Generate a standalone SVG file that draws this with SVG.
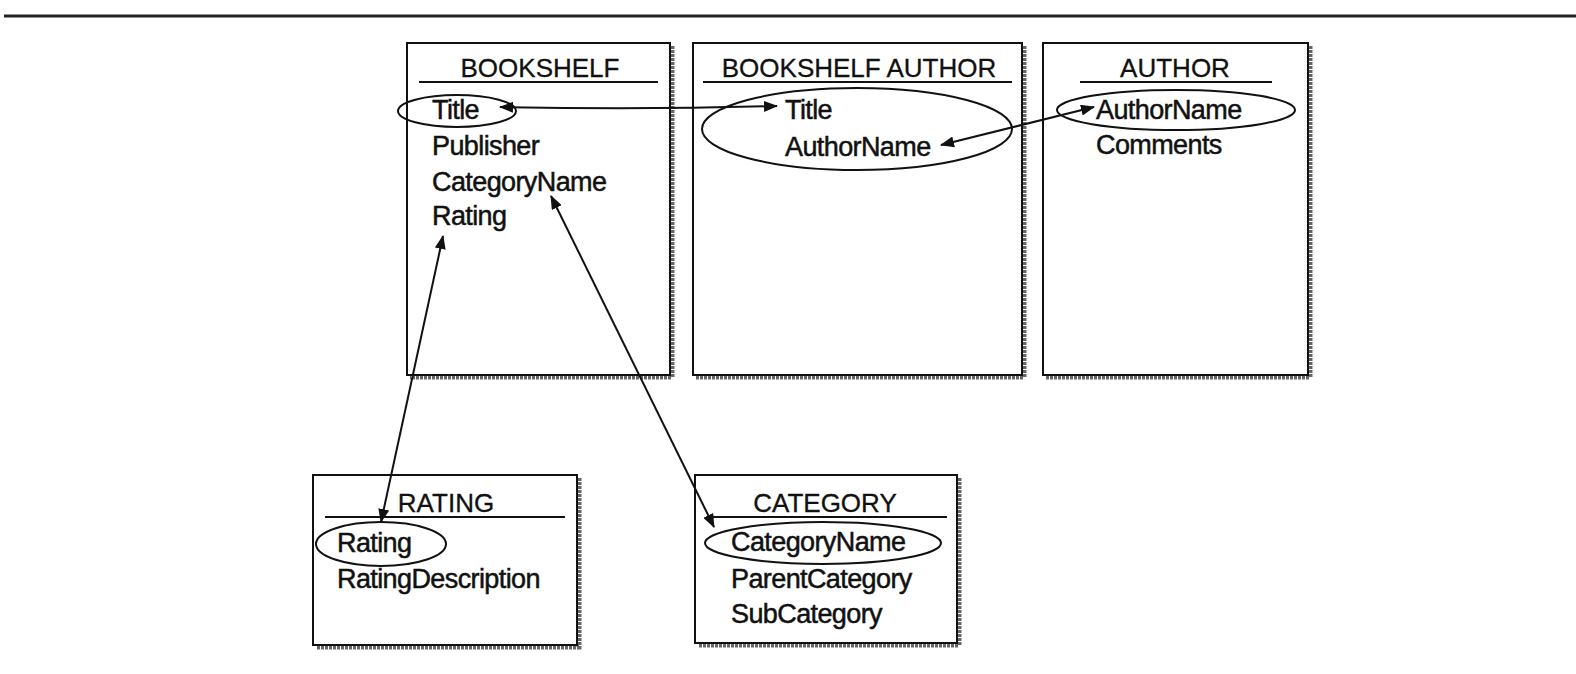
<svg xmlns="http://www.w3.org/2000/svg" width="1576" height="674" viewBox="0 0 1576 674">
<style>
.box{fill:#fff;stroke:#111;stroke-width:2}
.shadow{fill:none;stroke:#666;stroke-width:5;stroke-dasharray:3 1}
.hdr{font-family:"Liberation Sans",Arial,sans-serif;font-size:26px;fill:#111;stroke:#111;stroke-width:0.3;text-anchor:middle}
.fld{font-family:"Liberation Sans",Arial,sans-serif;font-size:27px;fill:#111;stroke:#111;stroke-width:0.5;letter-spacing:-0.6px}
.ul{stroke:#111;stroke-width:2}
.key{fill:none;stroke:#111;stroke-width:2}
.conn{fill:none;stroke:#111;stroke-width:2}
</style>
<defs>
<marker id="ah" viewBox="0 0 14 11" refX="13" refY="5.5" markerWidth="14" markerHeight="11" markerUnits="userSpaceOnUse" orient="auto-start-reverse">
<path d="M0,0 L14,5.5 L0,11 Z" fill="#111"/>
</marker>
</defs>
<line x1="4" y1="16" x2="1576" y2="16" stroke="#222" stroke-width="3"/>

<g id="bookshelf">
<polyline class="shadow" points="672,46 672,377 410,377"/>
<rect class="box" x="407" y="43" width="263" height="332"/>
<text class="hdr" x="540" y="77">BOOKSHELF</text>
<line class="ul" x1="419" y1="82" x2="658" y2="82"/>
<ellipse class="key" cx="457" cy="111" rx="59" ry="16"/>
<text class="fld" x="432" y="119">Title</text>
<text class="fld" x="432" y="155">Publisher</text>
<text class="fld" x="432" y="191">CategoryName</text>
<text class="fld" x="432" y="225">Rating</text>
</g>

<g id="bookshelf_author">
<polyline class="shadow" points="1024,46 1024,377 696,377"/>
<rect class="box" x="693" y="43" width="329" height="332"/>
<text class="hdr" x="859" y="77">BOOKSHELF AUTHOR</text>
<line class="ul" x1="703" y1="82" x2="1012" y2="82"/>
<ellipse class="key" cx="857" cy="129" rx="155" ry="41"/>
<text class="fld" x="785" y="119">Title</text>
<text class="fld" x="785" y="156">AuthorName</text>
</g>

<g id="author">
<polyline class="shadow" points="1310,46 1310,377 1046,377"/>
<rect class="box" x="1043" y="43" width="265" height="332"/>
<text class="hdr" x="1175" y="77">AUTHOR</text>
<line class="ul" x1="1080" y1="82" x2="1272" y2="82"/>
<ellipse class="key" cx="1176" cy="110" rx="119" ry="20"/>
<text class="fld" x="1096" y="119">AuthorName</text>
<text class="fld" x="1096" y="154">Comments</text>
</g>

<g id="rating">
<polyline class="shadow" points="579,478 579,647 316,647"/>
<rect class="box" x="313" y="475" width="264" height="170"/>
<text class="hdr" x="446" y="512">RATING</text>
<line class="ul" x1="325" y1="517" x2="565" y2="517"/>
<ellipse class="key" cx="381" cy="544" rx="65" ry="22"/>
<text class="fld" x="337" y="552">Rating</text>
<text class="fld" x="337" y="588">RatingDescription</text>
</g>

<g id="category">
<polyline class="shadow" points="959,478 959,645 698,645"/>
<rect class="box" x="695" y="475" width="262" height="168"/>
<text class="hdr" x="825" y="512">CATEGORY</text>
<line class="ul" x1="712" y1="517" x2="947" y2="517"/>
<ellipse class="key" cx="823" cy="543" rx="118" ry="21"/>
<text class="fld" x="731" y="551">CategoryName</text>
<text class="fld" x="731" y="588">ParentCategory</text>
<text class="fld" x="731" y="623">SubCategory</text>
</g>

<g id="connectors">
<path class="conn" d="M500,107 Q640,110 777,106" marker-start="url(#ah)" marker-end="url(#ah)"/>
<path class="conn" d="M941,145 L1094,107" marker-start="url(#ah)" marker-end="url(#ah)"/>
<path class="conn" d="M443,236 L381,522" marker-start="url(#ah)" marker-end="url(#ah)"/>
<path class="conn" d="M551,196 L714,527" marker-start="url(#ah)" marker-end="url(#ah)"/>
</g>
</svg>
